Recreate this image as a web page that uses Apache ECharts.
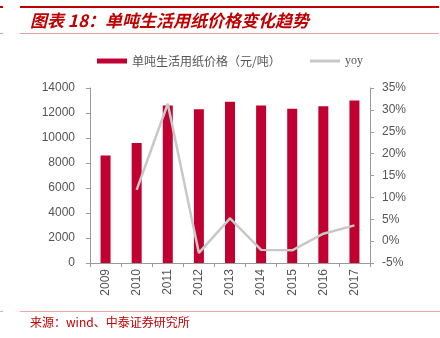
<!DOCTYPE html>
<html><head><meta charset="utf-8">
<script src="https://cdn.jsdelivr.net/npm/echarts@6/dist/echarts.min.js"></script>
<style>html,body{margin:0;padding:0;background:#fff}#c{width:440px;height:338px}</style>
</head><body><div id="c"></div>
<script>
const categories = ['2009','2010','2011','2012','2013','2014','2015','2016','2017'];
const priceValues = [8600, 9600, 12600, 12300, 12900, 12600, 12350, 12550, 13000];
const yoyValues = [null, 11.7, 31.4, -2.7, 5.2, -2.0, -2.1, 1.7, 3.6];
const leftTicks = {min: 0, max: 14000, interval: 2000};
const rightTicks = {min: -5, max: 35, interval: 5};
const seriesNames = ['单吨生活用纸价格（元/吨）', 'yoy'];
const titleText = '图表 18：单吨生活用纸价格变化趋势';
const sourceText = '来源：wind、中泰证券研究所';

const chart = echarts.init(document.getElementById('c'), null, {renderer: 'canvas'});
const axisGray = '#9a9a9a';
const labelColor = '#555';
const tickFont = 'Liberation Sans, Arial, sans-serif';
const cjk = '"Noto Sans CJK SC", sans-serif';
chart.setOption({
  animation: false,
  backgroundColor: '#fff',
  graphic: [
    {type: 'line', shape: {x1: 20, y1: 7, x2: 439, y2: 7}, style: {stroke: '#C00000', lineWidth: 2}},
    {type: 'line', shape: {x1: 0, y1: 7, x2: 3, y2: 7}, style: {stroke: '#C00000', lineWidth: 2}},
    {type: 'line', shape: {x1: 20, y1: 33.5, x2: 439, y2: 33.5}, style: {stroke: '#E6A0A0', lineWidth: 1}},
    {type: 'line', shape: {x1: 0, y1: 33.5, x2: 3, y2: 33.5}, style: {stroke: '#E6A0A0', lineWidth: 1}},
    {type: 'text', left: 30, top: 12, style: {text: titleText, fill: '#C00000', font: 'italic bold 17px ' + cjk}},
    {type: 'line', shape: {x1: 20, y1: 311.5, x2: 440, y2: 311.5}, style: {stroke: '#F0A8A8', lineWidth: 1}},
    {type: 'line', shape: {x1: 0, y1: 311.5, x2: 3, y2: 311.5}, style: {stroke: '#F0A8A8', lineWidth: 1}},
    {type: 'text', left: 30, top: 316, style: {text: sourceText, fill: '#C00000', font: '12px ' + cjk}}
  ],
  legend: [
    {left: 92, top: 50, itemWidth: 30, itemHeight: 5, itemGap: 0, data: [{name: seriesNames[0], icon: 'rect'}],
     textStyle: {color: labelColor, fontSize: 12, fontFamily: cjk}},
    {left: 305, top: 50, itemWidth: 30, itemHeight: 3, data: [{name: seriesNames[1], icon: 'rect'}],
     textStyle: {color: labelColor, fontSize: 12, fontFamily: 'Liberation Serif, serif'}}
  ],
  grid: {left: 90, right: 70, top: 88, bottom: 75},
  xAxis: {
    type: 'category', data: categories,
    axisLine: {lineStyle: {color: axisGray}},
    axisTick: {show: true, lineStyle: {color: axisGray}, length: 4},
    axisLabel: {rotate: 90, color: labelColor, fontSize: 12, fontFamily: tickFont, margin: 6}
  },
  yAxis: [
    {type: 'value', min: leftTicks.min, max: leftTicks.max, interval: leftTicks.interval,
     splitLine: {show: false},
     axisLine: {show: true, lineStyle: {color: axisGray}},
     axisTick: {show: true, length: 4, lineStyle: {color: axisGray}},
     axisLabel: {color: labelColor, fontSize: 12, fontFamily: tickFont, margin: 15, formatter: v => String(v)}},
    {type: 'value', min: rightTicks.min, max: rightTicks.max, interval: rightTicks.interval,
     splitLine: {show: false},
     axisLine: {show: true, lineStyle: {color: axisGray}},
     axisTick: {show: true, length: 4, lineStyle: {color: axisGray}},
     axisLabel: {color: labelColor, fontSize: 12, fontFamily: tickFont, margin: 12, formatter: '{value}%'}}
  ],
  series: [
    {name: seriesNames[0], type: 'bar', data: priceValues, barWidth: 10, yAxisIndex: 0,
     itemStyle: {color: '#C00030'}},
    {name: seriesNames[1], type: 'line', data: yoyValues, yAxisIndex: 1, symbol: 'none',
     lineStyle: {color: '#C8C8C8', width: 2.5}, itemStyle: {color: '#C8C8C8'}}
  ]
});
</script></body></html>
